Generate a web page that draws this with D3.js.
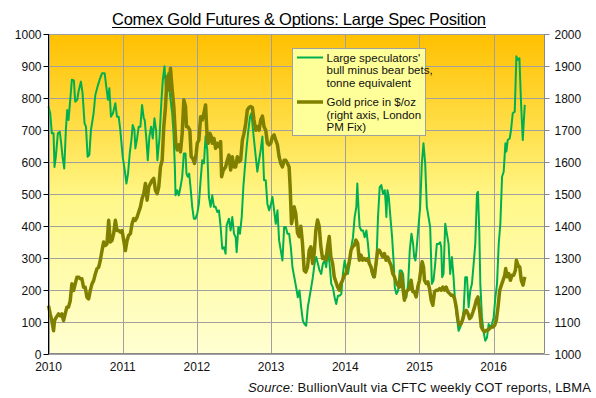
<!DOCTYPE html>
<html>
<head>
<meta charset="utf-8">
<script src="https://cdn.jsdelivr.net/npm/d3@7"></script>
<style>
  html, body { margin: 0; padding: 0; background: #fff; }
  svg { display: block; font-family: Arial, "Liberation Sans", sans-serif; }
  .tick-label { font-size: 12px; fill: #111; }
  .legend-text { font-size: 11.5px; fill: #111; }
</style>
</head>
<body>
<svg id="chart" width="596" height="398" viewBox="0 0 596 398"></svg>
<script>
/* ── Data (decimal year, value) ───────────────────────────────────────────── */

const YEARS = [2010, 2011, 2012, 2013, 2014, 2015, 2016];
const LEFT_TICKS = [0, 100, 200, 300, 400, 500, 600, 700, 800, 900, 1000];
const RIGHT_TICKS = [1000, 1100, 1200, 1300, 1400, 1500, 1600, 1700, 1800, 1900, 2000];

// Large speculators' net position, tonnes
const specNet = [
  [2010.000, 773], [2010.023, 752], [2010.045, 689], [2010.068, 689], [2010.081, 584],
  [2010.099, 616], [2010.126, 689], [2010.153, 694], [2010.171, 658], [2010.189, 616],
  [2010.212, 579], [2010.234, 699], [2010.252, 762], [2010.270, 731], [2010.293, 794],
  [2010.315, 857], [2010.342, 855], [2010.360, 788], [2010.387, 794], [2010.405, 820],
  [2010.437, 851], [2010.459, 815], [2010.486, 720], [2010.505, 710], [2010.527, 616],
  [2010.550, 621], [2010.572, 699], [2010.608, 752], [2010.631, 809], [2010.662, 836],
  [2010.689, 857], [2010.721, 877], [2010.757, 877], [2010.784, 825], [2010.802, 794],
  [2010.820, 830], [2010.842, 741], [2010.869, 752], [2010.901, 783], [2010.923, 741],
  [2010.946, 741], [2010.968, 699], [2011.000, 616], [2011.027, 574], [2011.050, 532],
  [2011.072, 563], [2011.095, 626], [2011.117, 668], [2011.135, 715], [2011.158, 699],
  [2011.171, 642], [2011.194, 673], [2011.216, 710], [2011.239, 710], [2011.261, 778],
  [2011.284, 736], [2011.297, 731], [2011.320, 668], [2011.338, 605], [2011.360, 679],
  [2011.383, 710], [2011.405, 673], [2011.428, 736], [2011.450, 699], [2011.468, 605],
  [2011.495, 673], [2011.523, 794], [2011.541, 857], [2011.563, 899], [2011.586, 815],
  [2011.613, 877], [2011.640, 804], [2011.667, 752], [2011.685, 689], [2011.703, 584],
  [2011.712, 495], [2011.734, 511], [2011.757, 495], [2011.779, 521], [2011.802, 553],
  [2011.824, 626], [2011.847, 626], [2011.860, 563], [2011.878, 553], [2011.896, 563],
  [2011.914, 521], [2011.937, 459], [2011.959, 422], [2011.982, 422], [2012.005, 438],
  [2012.027, 469], [2012.050, 542], [2012.072, 605], [2012.095, 595], [2012.117, 680],
  [2012.140, 637], [2012.162, 490], [2012.185, 459], [2012.207, 495], [2012.230, 459],
  [2012.252, 459], [2012.275, 443], [2012.297, 448], [2012.320, 396], [2012.342, 328],
  [2012.365, 333], [2012.387, 312], [2012.401, 401], [2012.432, 422], [2012.455, 385],
  [2012.477, 427], [2012.500, 375], [2012.523, 364], [2012.536, 317], [2012.559, 396],
  [2012.581, 375], [2012.604, 427], [2012.626, 521], [2012.644, 574], [2012.671, 647],
  [2012.694, 699], [2012.716, 741], [2012.734, 752], [2012.752, 710], [2012.770, 668],
  [2012.793, 616], [2012.815, 569], [2012.838, 605], [2012.860, 637], [2012.883, 679],
  [2012.905, 542], [2012.928, 542], [2012.950, 469], [2012.973, 448], [2013.000, 469],
  [2013.018, 490], [2013.041, 448], [2013.063, 406], [2013.086, 448], [2013.108, 354],
  [2013.131, 322], [2013.153, 291], [2013.176, 396], [2013.198, 396], [2013.221, 375],
  [2013.243, 375], [2013.266, 333], [2013.288, 270], [2013.338, 207], [2013.360, 176],
  [2013.383, 197], [2013.405, 145], [2013.428, 103], [2013.450, 92], [2013.473, 87],
  [2013.495, 145], [2013.518, 176], [2013.541, 207], [2013.563, 239], [2013.586, 281],
  [2013.608, 302], [2013.631, 281], [2013.653, 260], [2013.676, 249], [2013.698, 281],
  [2013.721, 291], [2013.743, 270], [2013.766, 322], [2013.788, 281], [2013.811, 218],
  [2013.833, 207], [2013.856, 176], [2013.878, 155], [2013.901, 181], [2013.923, 181],
  [2013.946, 186], [2013.968, 249], [2013.991, 291], [2014.014, 260], [2014.036, 249],
  [2014.059, 281], [2014.081, 333], [2014.104, 364], [2014.126, 427], [2014.149, 459],
  [2014.162, 532], [2014.180, 448], [2014.194, 396], [2014.216, 385], [2014.239, 385],
  [2014.261, 364], [2014.284, 385], [2014.306, 343], [2014.329, 281], [2014.351, 260],
  [2014.374, 239], [2014.396, 239], [2014.419, 281], [2014.441, 427], [2014.464, 521],
  [2014.486, 527], [2014.509, 500], [2014.532, 511], [2014.545, 469], [2014.554, 427],
  [2014.568, 511], [2014.586, 490], [2014.608, 427], [2014.631, 364], [2014.653, 281],
  [2014.667, 207], [2014.689, 186], [2014.712, 197], [2014.734, 260], [2014.757, 260],
  [2014.779, 249], [2014.802, 176], [2014.824, 176], [2014.847, 218], [2014.869, 322],
  [2014.892, 375], [2014.914, 343], [2014.928, 302], [2014.946, 291], [2014.959, 322],
  [2014.982, 385], [2015.009, 459], [2015.032, 595], [2015.054, 658], [2015.077, 595],
  [2015.099, 459], [2015.122, 427], [2015.144, 396], [2015.167, 218], [2015.189, 228],
  [2015.212, 281], [2015.234, 343], [2015.257, 343], [2015.279, 348], [2015.293, 333],
  [2015.306, 239], [2015.324, 249], [2015.347, 406], [2015.369, 375], [2015.392, 343],
  [2015.414, 249], [2015.437, 302], [2015.459, 239], [2015.482, 155], [2015.505, 113],
  [2015.527, 71], [2015.550, 82], [2015.572, 97], [2015.595, 134], [2015.617, 239],
  [2015.640, 239], [2015.662, 145], [2015.685, 197], [2015.707, 218], [2015.730, 281],
  [2015.752, 343], [2015.775, 500], [2015.788, 506], [2015.806, 385], [2015.820, 218],
  [2015.842, 113], [2015.865, 66], [2015.887, 40], [2015.910, 50], [2015.932, 92],
  [2015.955, 82], [2015.977, 92], [2016.000, 113], [2016.023, 176], [2016.045, 218],
  [2016.068, 343], [2016.090, 406], [2016.113, 553], [2016.135, 569], [2016.158, 658],
  [2016.171, 632], [2016.189, 668], [2016.216, 673], [2016.234, 699], [2016.257, 752],
  [2016.284, 757], [2016.306, 930], [2016.324, 919], [2016.347, 924], [2016.369, 783],
  [2016.392, 668], [2016.419, 778]
];

// Gold price, $/oz (London PM Fix)
const goldPrice = [
  [2010.000, 1150], [2010.023, 1124], [2010.045, 1103], [2010.068, 1071], [2010.081, 1103],
  [2010.104, 1113], [2010.135, 1124], [2010.158, 1118], [2010.180, 1124], [2010.203, 1103],
  [2010.225, 1124], [2010.248, 1145], [2010.270, 1145], [2010.293, 1165], [2010.315, 1218],
  [2010.338, 1197], [2010.360, 1218], [2010.383, 1239], [2010.405, 1239], [2010.428, 1234],
  [2010.450, 1234], [2010.473, 1207], [2010.495, 1207], [2010.518, 1176], [2010.541, 1171],
  [2010.563, 1197], [2010.586, 1218], [2010.608, 1228], [2010.631, 1249], [2010.653, 1265],
  [2010.676, 1270], [2010.698, 1291], [2010.721, 1322], [2010.743, 1349], [2010.766, 1338],
  [2010.788, 1343], [2010.811, 1417], [2010.833, 1349], [2010.856, 1354], [2010.878, 1375],
  [2010.901, 1417], [2010.923, 1385], [2010.946, 1385], [2010.968, 1380], [2010.991, 1385],
  [2011.014, 1354], [2011.036, 1322], [2011.059, 1354], [2011.081, 1370], [2011.104, 1375],
  [2011.126, 1406], [2011.149, 1422], [2011.171, 1417], [2011.194, 1427], [2011.216, 1443],
  [2011.239, 1459], [2011.261, 1485], [2011.284, 1500], [2011.306, 1532], [2011.329, 1480],
  [2011.351, 1521], [2011.374, 1532], [2011.396, 1542], [2011.419, 1548], [2011.441, 1511],
  [2011.464, 1500], [2011.486, 1521], [2011.509, 1584], [2011.532, 1605], [2011.554, 1710],
  [2011.577, 1773], [2011.599, 1867], [2011.622, 1825], [2011.644, 1893], [2011.667, 1825],
  [2011.689, 1773], [2011.716, 1658], [2011.734, 1637], [2011.757, 1653], [2011.779, 1631],
  [2011.802, 1689], [2011.824, 1794], [2011.847, 1773], [2011.860, 1710], [2011.878, 1710],
  [2011.905, 1699], [2011.923, 1616], [2011.946, 1610], [2011.968, 1595], [2011.991, 1626],
  [2012.005, 1658], [2012.027, 1668], [2012.050, 1741], [2012.072, 1731], [2012.095, 1752],
  [2012.117, 1778], [2012.140, 1668], [2012.153, 1658], [2012.176, 1689], [2012.194, 1679],
  [2012.207, 1658], [2012.230, 1673], [2012.252, 1642], [2012.275, 1658], [2012.297, 1647],
  [2012.320, 1663], [2012.333, 1553], [2012.356, 1574], [2012.387, 1584], [2012.410, 1605],
  [2012.432, 1621], [2012.455, 1574], [2012.477, 1616], [2012.500, 1584], [2012.523, 1584],
  [2012.545, 1616], [2012.568, 1600], [2012.590, 1605], [2012.613, 1668], [2012.635, 1689],
  [2012.658, 1720], [2012.680, 1762], [2012.703, 1770], [2012.725, 1773], [2012.748, 1770],
  [2012.770, 1731], [2012.793, 1699], [2012.815, 1710], [2012.838, 1699], [2012.860, 1731],
  [2012.883, 1743], [2012.905, 1710], [2012.928, 1699], [2012.950, 1658], [2012.973, 1653],
  [2012.995, 1658], [2013.018, 1679], [2013.041, 1684], [2013.063, 1668], [2013.086, 1653],
  [2013.108, 1616], [2013.131, 1595], [2013.153, 1584], [2013.176, 1605], [2013.198, 1605],
  [2013.221, 1595], [2013.243, 1584], [2013.257, 1521], [2013.275, 1406], [2013.293, 1427],
  [2013.311, 1459], [2013.333, 1438], [2013.356, 1377], [2013.378, 1366], [2013.401, 1398],
  [2013.423, 1345], [2013.446, 1260], [2013.468, 1255], [2013.491, 1271], [2013.514, 1323],
  [2013.536, 1334], [2013.559, 1282], [2013.581, 1313], [2013.604, 1387], [2013.626, 1418],
  [2013.649, 1398], [2013.671, 1334], [2013.694, 1297], [2013.716, 1302], [2013.739, 1292],
  [2013.761, 1334], [2013.784, 1366], [2013.806, 1302], [2013.829, 1282], [2013.851, 1240],
  [2013.874, 1224], [2013.896, 1208], [2013.919, 1198], [2013.941, 1219], [2013.964, 1229],
  [2013.986, 1245], [2014.009, 1250], [2014.032, 1271], [2014.054, 1287], [2014.077, 1323],
  [2014.099, 1334], [2014.122, 1339], [2014.144, 1355], [2014.167, 1345], [2014.189, 1292],
  [2014.212, 1308], [2014.234, 1292], [2014.257, 1297], [2014.279, 1292], [2014.302, 1297],
  [2014.324, 1282], [2014.347, 1271], [2014.369, 1250], [2014.392, 1240], [2014.414, 1282],
  [2014.437, 1323], [2014.459, 1323], [2014.482, 1313], [2014.505, 1302], [2014.527, 1313],
  [2014.550, 1292], [2014.572, 1302], [2014.595, 1287], [2014.617, 1276], [2014.640, 1250],
  [2014.662, 1240], [2014.685, 1224], [2014.707, 1214], [2014.730, 1208], [2014.752, 1250],
  [2014.775, 1208], [2014.797, 1167], [2014.820, 1193], [2014.842, 1198], [2014.865, 1203],
  [2014.887, 1229], [2014.910, 1193], [2014.932, 1193], [2014.955, 1177], [2014.977, 1208],
  [2015.000, 1229], [2015.023, 1271], [2015.036, 1287], [2015.054, 1271], [2015.068, 1229],
  [2015.090, 1219], [2015.113, 1224], [2015.135, 1203], [2015.158, 1167], [2015.180, 1151],
  [2015.203, 1193], [2015.225, 1198], [2015.248, 1198], [2015.270, 1203], [2015.293, 1198],
  [2015.315, 1208], [2015.338, 1198], [2015.360, 1208], [2015.383, 1193], [2015.405, 1188],
  [2015.428, 1182], [2015.450, 1182], [2015.473, 1172], [2015.495, 1146], [2015.518, 1104],
  [2015.541, 1089], [2015.563, 1094], [2015.586, 1109], [2015.608, 1130], [2015.631, 1135],
  [2015.653, 1125], [2015.676, 1109], [2015.698, 1115], [2015.721, 1130], [2015.743, 1146],
  [2015.766, 1167], [2015.788, 1177], [2015.811, 1135], [2015.833, 1083], [2015.856, 1073],
  [2015.878, 1068], [2015.901, 1073], [2015.923, 1073], [2015.946, 1078], [2015.968, 1083],
  [2015.991, 1083], [2016.014, 1089], [2016.036, 1104], [2016.059, 1146], [2016.081, 1198],
  [2016.104, 1214], [2016.126, 1229], [2016.149, 1245], [2016.162, 1266], [2016.180, 1240],
  [2016.203, 1250], [2016.225, 1229], [2016.248, 1245], [2016.270, 1245], [2016.293, 1261],
  [2016.306, 1292], [2016.329, 1276], [2016.351, 1271], [2016.372, 1229], [2016.396, 1214],
  [2016.419, 1240]
];

/* ── Layout ───────────────────────────────────────────────────────────────── */

const svg = d3.select("#chart");
const P = { left: 48.5, right: 544.5, top: 34, bottom: 353.5 };

const x = d3.scaleLinear().domain([2010, 2016.685]).range([P.left, P.right]);
const yL = d3.scaleLinear().domain([0, 1000]).range([P.bottom, P.top]);
const yR = d3.scaleLinear().domain([1000, 2000]).range([P.bottom, P.top]);

// Background gradient, orange at the top fading to pale yellow
const grad = svg
  .append("defs")
  .append("linearGradient")
  .attr("id", "bg")
  .attr("x1", 0)
  .attr("y1", 0)
  .attr("x2", 0)
  .attr("y2", 1);
[
  [0, "#ffc000"],
  [0.3, "#ffdf4a"],
  [0.52, "#fff88a"],
  [1, "#ffffd2"],
].forEach(([o, c]) => grad.append("stop").attr("offset", o).attr("stop-color", c));

svg
  .append("rect")
  .attr("x", P.left)
  .attr("y", P.top)
  .attr("width", P.right - P.left)
  .attr("height", P.bottom - P.top)
  .attr("fill", "url(#bg)");

// Grid
const grid = svg.append("g").attr("stroke", "#a0a0a0").attr("stroke-width", 1);
LEFT_TICKS.forEach((v) => {
  grid
    .append("line")
    .attr("x1", P.left)
    .attr("x2", P.right)
    .attr("y1", Math.round(yL(v)) + 0.5)
    .attr("y2", Math.round(yL(v)) + 0.5);
});
YEARS.forEach((yr) => {
  grid
    .append("line")
    .attr("x1", Math.round(x(yr)) + 0.5)
    .attr("x2", Math.round(x(yr)) + 0.5)
    .attr("y1", P.top)
    .attr("y2", P.bottom);
});
grid
  .append("line")
  .attr("x1", P.right)
  .attr("x2", P.right)
  .attr("y1", P.top)
  .attr("y2", P.bottom)
  .attr("stroke", "#888");

/* ── Series ───────────────────────────────────────────────────────────────── */

const specLine = d3
  .line()
  .x((d) => x(d[0]))
  .y((d) => yL(d[1]));
const goldLine = d3
  .line()
  .x((d) => x(d[0]))
  .y((d) => yR(d[1]));

svg
  .append("path")
  .datum(specNet)
  .attr("d", specLine)
  .attr("fill", "none")
  .attr("stroke", "#00b050")
  .attr("stroke-width", 2)
  .attr("stroke-linejoin", "round");

svg
  .append("path")
  .datum(goldPrice)
  .attr("d", goldLine)
  .attr("fill", "none")
  .attr("stroke", "#808000")
  .attr("stroke-width", 3.5)
  .attr("stroke-linejoin", "round");

/* ── Axes ─────────────────────────────────────────────────────────────────── */

svg
  .append("line")
  .attr("x1", P.left)
  .attr("x2", P.right)
  .attr("y1", P.bottom)
  .attr("y2", P.bottom)
  .attr("stroke", "#888");

const left = svg.append("g");
left
  .append("line")
  .attr("x1", P.left)
  .attr("x2", P.left)
  .attr("y1", P.top)
  .attr("y2", P.bottom + 1)
  .attr("stroke", "#000");
LEFT_TICKS.forEach((v) => {
  const yy = Math.round(yL(v)) + 0.5;
  left
    .append("line")
    .attr("x1", P.left - 5)
    .attr("x2", P.left)
    .attr("y1", yy)
    .attr("y2", yy)
    .attr("stroke", "#000");
  left
    .append("text")
    .attr("class", "tick-label")
    .attr("x", P.left - 7)
    .attr("y", yy)
    .attr("text-anchor", "end")
    .attr("dominant-baseline", "central")
    .text(v);
});

const right = svg.append("g");
RIGHT_TICKS.forEach((v) => {
  const yy = Math.round(yR(v)) + 0.5;
  right
    .append("line")
    .attr("x1", P.right)
    .attr("x2", P.right + 5)
    .attr("y1", yy)
    .attr("y2", yy)
    .attr("stroke", "#888");
  right
    .append("text")
    .attr("class", "tick-label")
    .attr("x", P.right + 10)
    .attr("y", yy)
    .attr("dominant-baseline", "central")
    .text(v);
});

YEARS.forEach((yr) => {
  svg
    .append("text")
    .attr("class", "tick-label")
    .attr("x", x(yr))
    .attr("y", 371)
    .attr("text-anchor", "middle")
    .text(yr);
});

/* ── Legend ───────────────────────────────────────────────────────────────── */

const lg = svg.append("g");
lg.append("rect")
  .attr("x", 292.5)
  .attr("y", 48.5)
  .attr("width", 133)
  .attr("height", 87)
  .attr("fill", "#ffff99")
  .attr("stroke", "#a0a0a0");

const legendItems = [
  { color: "#00b050", width: 2, y: 57.5, lines: ["Large speculators'", "bull minus bear bets,", "tonne equivalent"] },
  { color: "#808000", width: 3.5, y: 102, lines: ["Gold price in $/oz", "(right axis, London", "PM Fix)"] },
];
legendItems.forEach((it) => {
  lg.append("line")
    .attr("x1", 297)
    .attr("x2", 323)
    .attr("y1", it.y)
    .attr("y2", it.y)
    .attr("stroke", it.color)
    .attr("stroke-width", it.width);
  it.lines.forEach((t, i) => {
    lg.append("text")
      .attr("class", "legend-text")
      .attr("x", 326.5)
      .attr("y", it.y + i * 12.7)
      .attr("dominant-baseline", "central")
      .text(t);
  });
});

/* ── Title & source ───────────────────────────────────────────────────────── */

const title = svg
  .append("text")
  .attr("x", 299)
  .attr("y", 25)
  .attr("text-anchor", "middle")
  .attr("font-size", "16.5px")
  .attr("fill", "#000")
  .attr("textLength", 374)
  .attr("lengthAdjust", "spacing")
  .text("Comex Gold Futures & Options: Large Spec Position");
svg
  .append("line")
  .attr("x1", 299 - 187)
  .attr("x2", 299 + 187)
  .attr("y1", 27.5)
  .attr("y2", 27.5)
  .attr("stroke", "#000")
  .attr("stroke-width", 1);

const src = svg
  .append("text")
  .attr("x", 591)
  .attr("y", 392)
  .attr("text-anchor", "end")
  .attr("font-size", "13px")
  .attr("fill", "#111")
  .attr("textLength", 343)
  .attr("lengthAdjust", "spacing");
src.append("tspan").attr("font-style", "italic").text("Source:");
src.append("tspan").text(" BullionVault via CFTC weekly COT reports, LBMA");
</script>
</body>
</html>
